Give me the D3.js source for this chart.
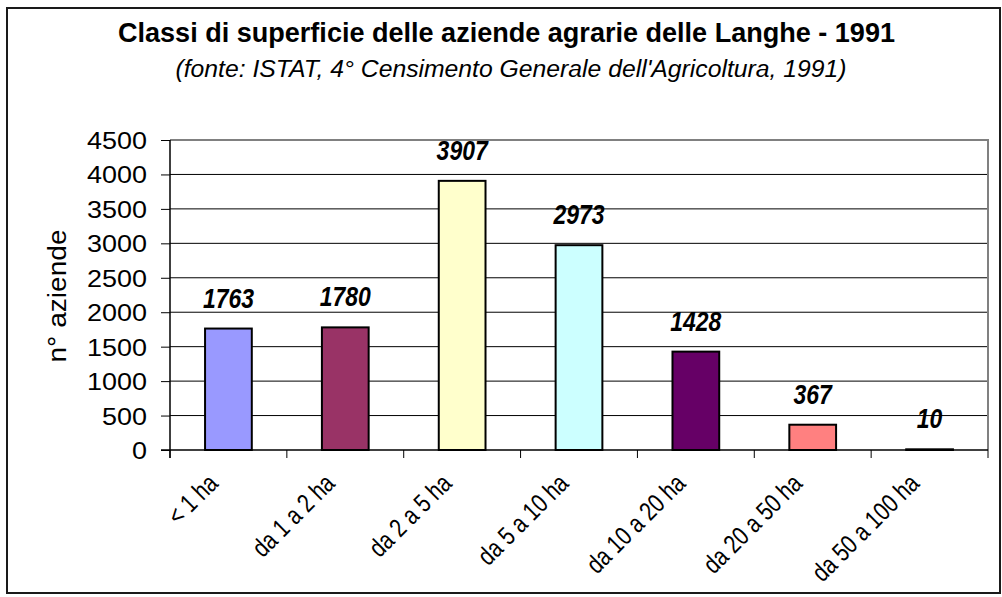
<!DOCTYPE html>
<html>
<head>
<meta charset="utf-8">
<script src="https://cdn.jsdelivr.net/npm/d3@7"></script>
<style>
  html, body { margin: 0; padding: 0; background: #fff; }
  svg { display: block; }
  text { font-family: "Liberation Sans", Arial, sans-serif; fill: #000; }
</style>
</head>
<body>
<svg id="chart" width="1002" height="597"></svg>
<script>
// Farm size classes, Langhe area, 1991 census
const categories = ["< 1 ha", "da 1 a 2 ha", "da 2 a 5 ha", "da 5 a 10 ha", "da 10 a 20 ha", "da 20 a 50 ha", "da 50 a 100 ha"];
const values = [1763, 1780, 3907, 2973, 1428, 367, 10];
const barColors = ["#9999FF", "#993366", "#FFFFCC", "#CCFFFF", "#660066", "#FF8080", "#0066CC"];
const yTicks = [0, 500, 1000, 1500, 2000, 2500, 3000, 3500, 4000, 4500];
const titleText = "Classi di superficie delle aziende agrarie delle Langhe - 1991";
const subtitleText = "(fonte: ISTAT, 4° Censimento Generale dell'Agricoltura, 1991)";
const yTitle = "n° aziende";

const svg = d3.select("#chart");

const plot = { left: 170, right: 988, top: 140, bottom: 450 };

// outer chart frame
svg.append("rect")
  .attr("x", 7).attr("y", 8)
  .attr("width", 993).attr("height", 585)
  .attr("fill", "#fff")
  .attr("stroke", "#1a1a1a")
  .attr("stroke-width", 2);

// titles
svg.append("text")
  .attr("x", 506.5).attr("y", 42)
  .attr("text-anchor", "middle")
  .attr("font-size", 28)
  .attr("font-weight", "bold")
  .attr("textLength", 777)
  .attr("lengthAdjust", "spacingAndGlyphs")
  .text(titleText);

svg.append("text")
  .attr("x", 511).attr("y", 77)
  .attr("text-anchor", "middle")
  .attr("font-size", 23)
  .attr("font-style", "italic")
  .attr("textLength", 671)
  .attr("lengthAdjust", "spacingAndGlyphs")
  .text(subtitleText);

// scales
const x = d3.scaleBand()
  .domain(categories)
  .range([plot.left, plot.right])
  .paddingInner(0.6)
  .paddingOuter(0.3);

const catEdge = d3.scaleLinear().domain([0, categories.length]).range([plot.left, plot.right]);

const y = d3.scaleLinear().domain([0, 4500]).range([plot.bottom, plot.top]);

// gridlines
svg.append("g")
  .selectAll("line")
  .data(yTicks.filter(t => t > 0 && t < 4500))
  .join("line")
  .attr("x1", plot.left).attr("x2", plot.right)
  .attr("y1", d => y(d)).attr("y2", d => y(d))
  .attr("stroke", "#000")
  .attr("stroke-width", 1);

// plot area border (top / right)
svg.append("path")
  .attr("d", `M${plot.left},${y(4500)}H${plot.right}V${plot.bottom}`)
  .attr("fill", "none")
  .attr("stroke", "#808080")
  .attr("stroke-width", 2);

// bars
svg.append("g")
  .selectAll("rect")
  .data(values)
  .join("rect")
  .attr("x", (d, i) => x(categories[i]))
  .attr("width", x.bandwidth())
  .attr("y", d => y(d))
  .attr("height", d => y(0) - y(d))
  .attr("fill", (d, i) => barColors[i])
  .attr("stroke", "#000")
  .attr("stroke-width", 2);

// value labels
svg.append("g")
  .selectAll("text")
  .data(values)
  .join("text")
  .attr("transform", (d, i) => `translate(${x(categories[i]) + x.bandwidth() / 2},${y(d) - 21}) scale(0.82,1)`)
  .attr("text-anchor", "middle")
  .attr("font-size", 28)
  .attr("font-weight", "bold")
  .attr("font-style", "italic")
  .text(d => d);

// y axis
const yAxis = svg.append("g")
  .attr("transform", `translate(${plot.left},0)`)
  .call(d3.axisLeft(y).tickValues(yTicks).tickSize(9).tickSizeOuter(0).tickPadding(0).tickFormat(d3.format("d")));
yAxis.select(".domain").remove();
yAxis.selectAll(".tick line").attr("stroke", "#000").attr("stroke-width", 1);
yAxis.selectAll(".tick text")
  .attr("x", null).attr("dy", null)
  .attr("transform", "translate(-23,8.5) scale(1.1,1)")
  .attr("font-size", 24.5)
  .attr("font-family", "Liberation Sans, Arial, sans-serif")
  .attr("fill", "#000");

svg.append("line")
  .attr("x1", plot.left).attr("x2", plot.left)
  .attr("y1", plot.top).attr("y2", plot.bottom + 8)
  .attr("stroke", "#000").attr("stroke-width", 1.5);

// x axis line and category ticks
svg.append("line")
  .attr("x1", plot.left - 9).attr("x2", plot.right)
  .attr("y1", plot.bottom).attr("y2", plot.bottom)
  .attr("stroke", "#000").attr("stroke-width", 1.5);

svg.append("g")
  .selectAll("line")
  .data(d3.range(categories.length + 1))
  .join("line")
  .attr("x1", d => catEdge(d)).attr("x2", d => catEdge(d))
  .attr("y1", plot.bottom).attr("y2", plot.bottom + 8)
  .attr("stroke", "#000").attr("stroke-width", 1);

// rotated category labels
svg.append("g")
  .selectAll("text")
  .data(categories)
  .join("text")
  .attr("transform", d => `translate(${x(d) + x.bandwidth() / 2 - 9},${plot.bottom + 35}) rotate(-45) scale(0.8,1)`)
  .attr("text-anchor", "end")
  .attr("font-size", 26)
  .text(d => d);

// y axis title
svg.append("text")
  .attr("transform", `translate(66,296) rotate(-90)`)
  .attr("text-anchor", "middle")
  .attr("font-size", 25)
  .attr("textLength", 133)
  .attr("lengthAdjust", "spacingAndGlyphs")
  .text(yTitle);
</script>
</body>
</html>
